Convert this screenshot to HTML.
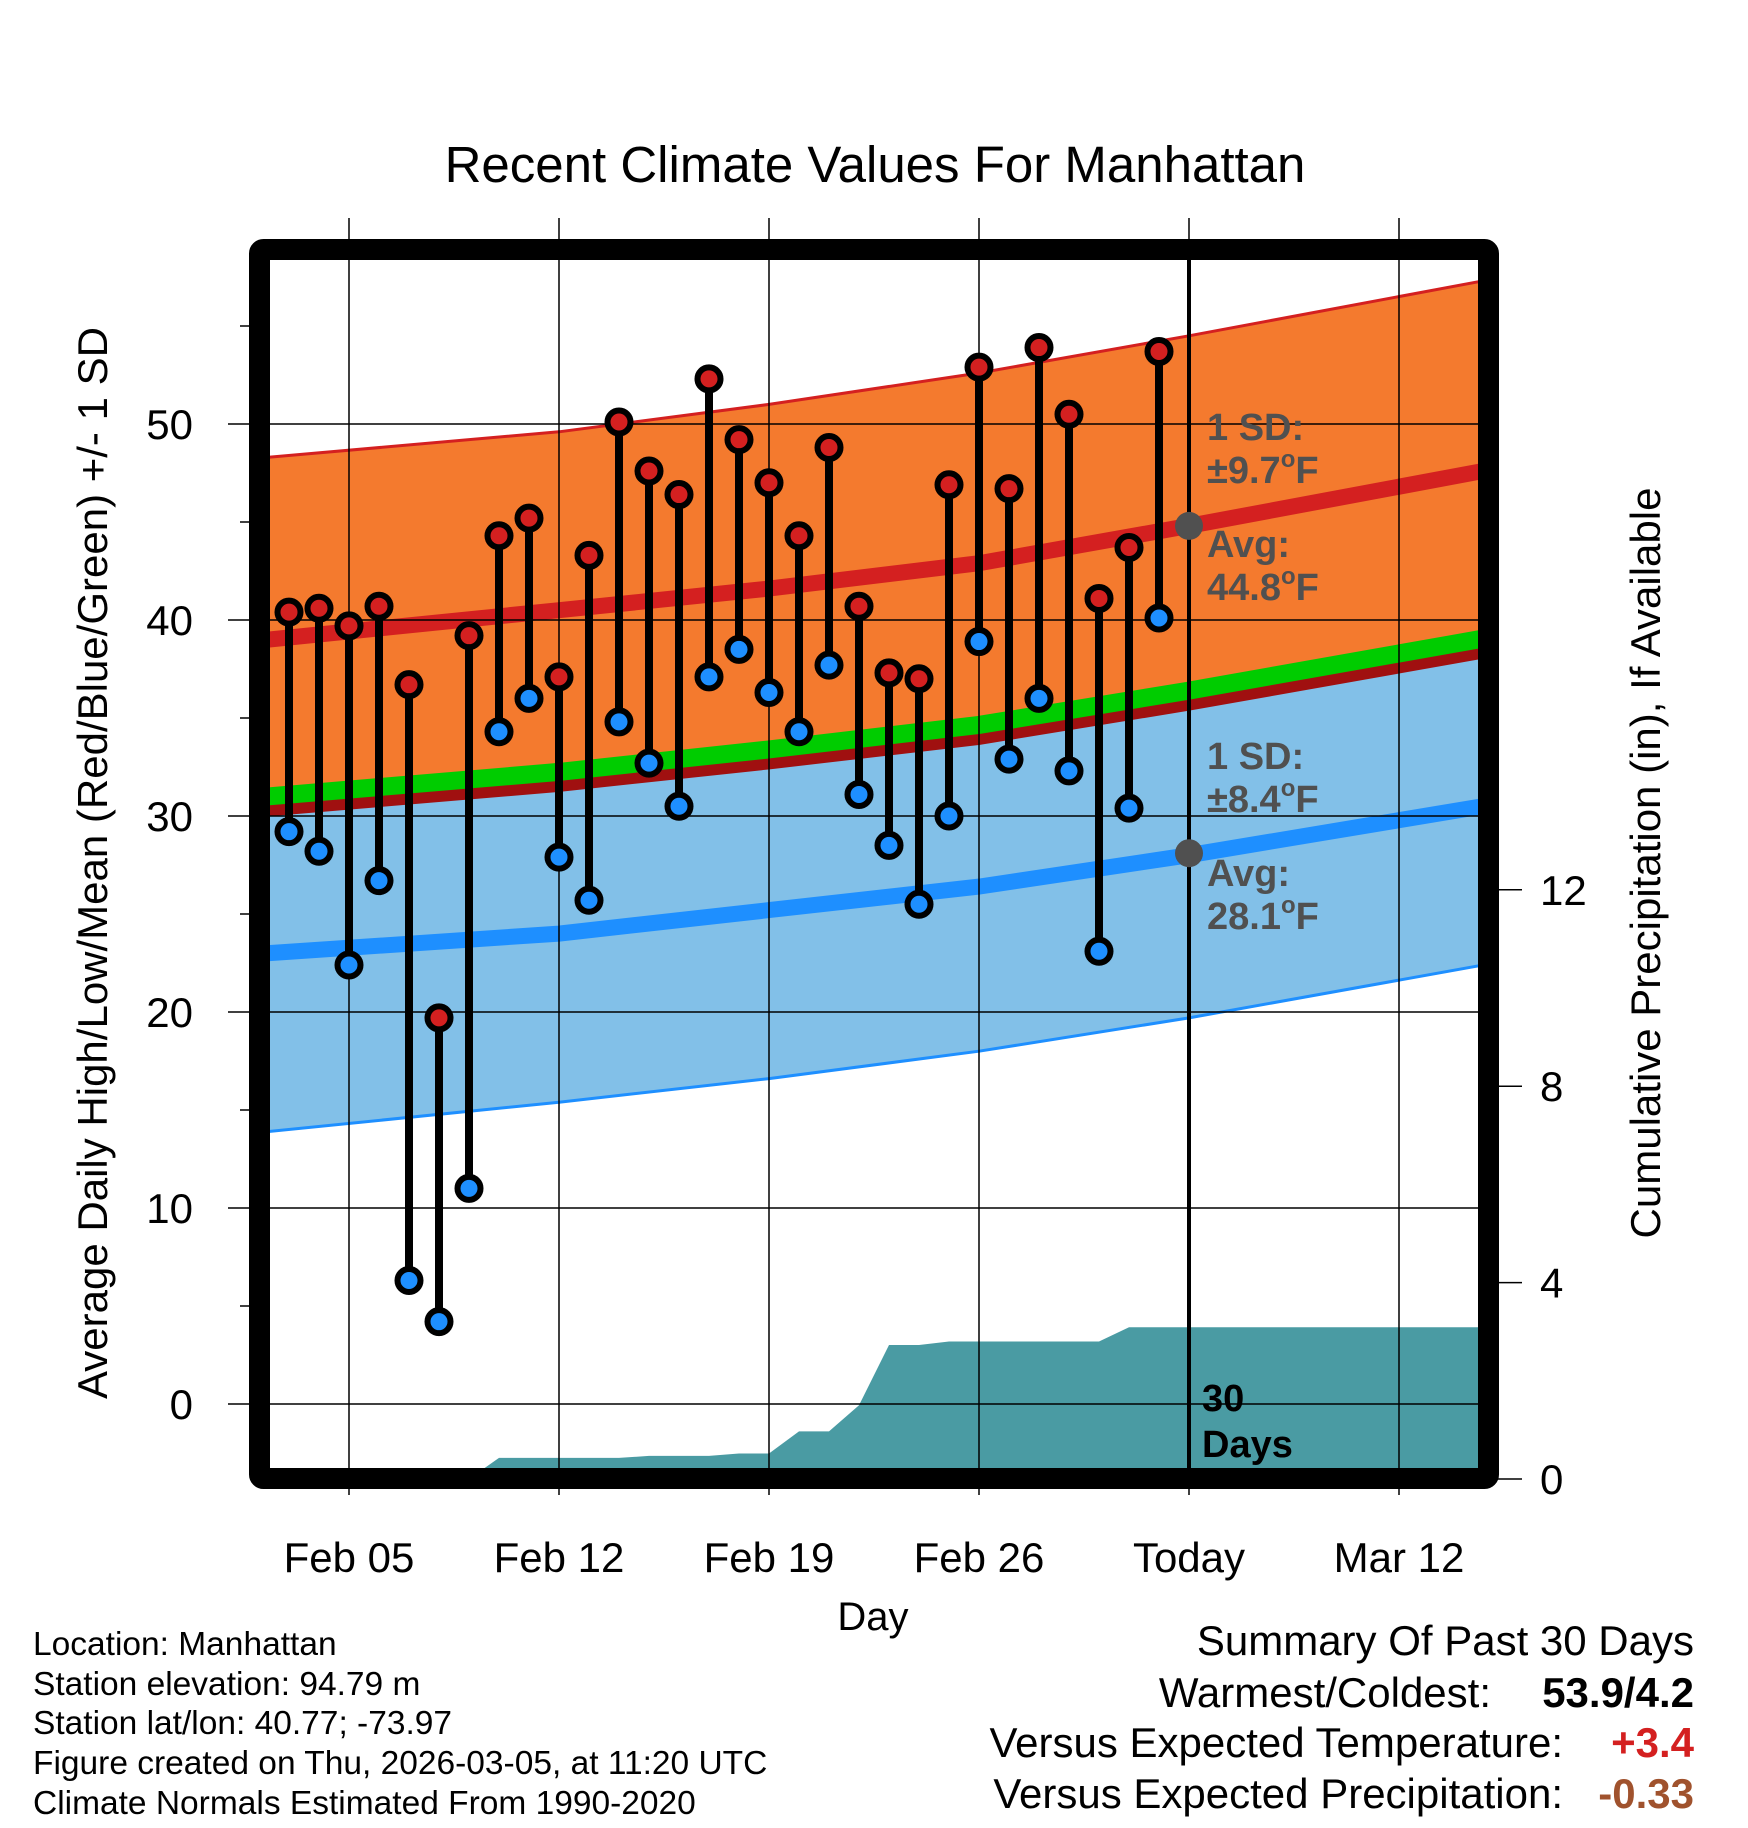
<!DOCTYPE html>
<html><head><meta charset="utf-8"><style>
html,body{margin:0;padding:0;background:#fff}
svg{display:block}
text{font-family:"Liberation Sans",Arial,sans-serif}
</style></head><body>
<svg id="chart" width="1748" height="1828" viewBox="0 0 1748 1828" xmlns="http://www.w3.org/2000/svg">
<defs><clipPath id="plotclip"><rect x="270" y="260" width="1209" height="1209"/></clipPath></defs>
<text x="875" y="182" font-size="51" text-anchor="middle">Recent Climate Values For Manhattan</text>
<g id="plot" clip-path="url(#plotclip)"></g>
<g id="axes"></g>
<text x="1207" y="440" font-size="38" font-weight="bold" fill="#505050">1 SD:</text>
<text x="1207" y="483" font-size="38" font-weight="bold" fill="#505050">±9.7<tspan font-size="24" dy="-16">o</tspan><tspan dy="16">F</tspan></text>
<text x="1207" y="557" font-size="38" font-weight="bold" fill="#505050">Avg:</text>
<text x="1207" y="600" font-size="38" font-weight="bold" fill="#505050">44.8<tspan font-size="24" dy="-16">o</tspan><tspan dy="16">F</tspan></text>
<text x="1207" y="769" font-size="38" font-weight="bold" fill="#505050">1 SD:</text>
<text x="1207" y="812" font-size="38" font-weight="bold" fill="#505050">±8.4<tspan font-size="24" dy="-16">o</tspan><tspan dy="16">F</tspan></text>
<text x="1207" y="886" font-size="38" font-weight="bold" fill="#505050">Avg:</text>
<text x="1207" y="929" font-size="38" font-weight="bold" fill="#505050">28.1<tspan font-size="24" dy="-16">o</tspan><tspan dy="16">F</tspan></text>
<text x="1202" y="1411" font-size="38" font-weight="bold">30</text>
<text x="1202" y="1457" font-size="38" font-weight="bold">Days</text>
<text x="873" y="1630" font-size="40" text-anchor="middle">Day</text>
<text transform="translate(107,863) rotate(-90)" font-size="42" text-anchor="middle">Average Daily High/Low/Mean (Red/Blue/Green) +/- 1 SD</text>
<text transform="translate(1660,863) rotate(-90)" font-size="42" text-anchor="middle">Cumulative Precipitation (in), If Available</text>
<g font-size="33.5">
<text x="33" y="1655">Location: Manhattan</text>
<text x="33" y="1695">Station elevation: 94.79 m</text>
<text x="33" y="1734">Station lat/lon: 40.77; -73.97</text>
<text x="33" y="1774">Figure created on Thu, 2026-03-05, at 11:20 UTC</text>
<text x="33" y="1814">Climate Normals Estimated From 1990-2020</text>
</g>
<g font-size="42">
<text x="1694" y="1655" text-anchor="end">Summary Of Past 30 Days</text>
<text x="1491" y="1707" text-anchor="end">Warmest/Coldest:</text>
<text x="1694" y="1707" text-anchor="end" font-weight="bold">53.9/4.2</text>
<text x="1563" y="1757" text-anchor="end">Versus Expected Temperature:</text>
<text x="1694" y="1757" text-anchor="end" font-weight="bold" fill="#d42020">+3.4</text>
<text x="1563" y="1808" text-anchor="end">Versus Expected Precipitation:</text>
<text x="1694" y="1808" text-anchor="end" font-weight="bold" fill="#a0522d">-0.33</text>
</g>
</svg>
<script>
// ---- data ----
const days = [-2,-1,0,1,2,3,4,5,6,7,8,9,10,11,12,13,14,15,16,17,18,19,20,21,22,23,24,25,26,27]; // days from Feb 05
const highs = [40.4,40.6,39.7,40.7,36.7,19.7,39.2,44.3,45.2,37.1,43.3,50.1,47.6,46.4,52.3,49.2,47.0,44.3,48.8,40.7,37.3,37.0,46.9,52.9,46.7,53.9,50.5,41.1,43.7,53.7];
const lows = [29.2,28.2,22.4,26.7,6.3,4.2,11.0,34.3,36.0,27.9,25.7,34.8,32.7,30.5,37.1,38.5,36.3,34.3,37.7,31.1,28.5,25.5,30.0,38.9,32.9,36.0,32.3,23.1,30.4,40.1];
const precipCum = [0,0,0,0,0,0,0,0.43,0.43,0.43,0.43,0.43,0.47,0.47,0.47,0.52,0.52,0.97,0.97,1.5,2.73,2.73,2.8,2.8,2.8,2.8,2.8,2.8,3.09,3.09];
const normDays = [-2.7,7,14,21,28,37.8];
const hiPlusSD = [48.3,49.6,51.0,52.6,54.5,57.3];
const hiAvg = [39.0,40.5,41.6,42.9,44.8,47.6];
const meanAvg = [31.0,32.25,33.4,34.65,36.4,39.05];
const loAvg = [23.0,24.0,25.2,26.4,28.0,30.5];
const loMinusSD = [13.9,15.4,16.6,18.0,19.7,22.4];
const yTicks = [0,10,20,30,40,50];
const y2Ticks = [0,4,8,12];
const xTickDays = [0,7,14,21,28,35];
const xTickLabels = ["Feb 05","Feb 12","Feb 19","Feb 26","Today","Mar 12"];
const todayDay = 28;
const todayHiAvg = 44.8, todayLoAvg = 28.1;

// ---- axis functions ----
const X = d => 349 + 30*d;
const Y = t => 1404 - 19.6*t;
const YP = p => 1479 - 49.1*p;
const NS = "http://www.w3.org/2000/svg";
function mk(tag, attrs, parent){const e=document.createElementNS(NS,tag);for(const k in attrs)e.setAttribute(k,attrs[k]);parent.appendChild(e);return e;}
const plot = document.getElementById('plot');
const axes = document.getElementById('axes');
function curvePts(vals, fy){return normDays.map((d,i)=>X(d).toFixed(1)+','+fy(vals[i]).toFixed(1));}
function band(top,bot,fill,name){
  const pts = curvePts(top,Y).concat(curvePts(bot,Y).reverse());
  const p = mk('polygon',{points:pts.join(' '),fill:fill},plot);
  
  
}
function line(vals,stroke,w,name,off){
  const p = mk('polyline',{points:normDays.map((d,i)=>X(d).toFixed(1)+','+(Y(vals[i])+(off||0)).toFixed(1)).join(' '),fill:'none',stroke:stroke,'stroke-width':w},plot);
  
  
}
band(hiPlusSD, meanAvg, '#f47a2e', 'high-sd-band');
band(meanAvg, loMinusSD, '#82c0e8', 'low-sd-band');
line(hiPlusSD,'#d42020',3,'high-plus-sd-line');
line(loMinusSD,'#1e8fff',3,'low-minus-sd-line');
line(hiAvg,'#d42020',16,'high-avg-line');
line(loAvg,'#1e8fff',16,'low-avg-line');
line(meanAvg,'#a01010',12,'mean-shadow-line',14);
line(meanAvg,'#00cc00',18,'mean-avg-line');

// precip area
(function(){
  let pts = [X(-3)+','+YP(0)];
  days.forEach((d,i)=>pts.push(X(d)+','+YP(precipCum[i]).toFixed(1)));
  const last = precipCum[precipCum.length-1];
  pts.push(X(40)+','+YP(last).toFixed(1));
  pts.push(X(40)+','+YP(0));
  const p = mk('polygon',{points:pts.join(' '),fill:'#4a9ba3'},plot);
  
  
})();

// gridlines
yTicks.forEach(t=>{
  const g = mk('line',{x1:228,x2:1479,y1:Y(t),y2:Y(t),stroke:'#000','stroke-width':1.5},axes);
  
  
  const lb = mk('text',{x:193,y:Y(t)+15,'font-size':42,'text-anchor':'end'},axes);
  lb.textContent = t;
  
  
});
for(let t=5;t<=55;t+=10){
  const m = mk('line',{x1:240,x2:250,y1:Y(t),y2:Y(t),stroke:'#000','stroke-width':1.5},axes);
  
  
}
xTickDays.forEach((d,i)=>{
  const g = mk('line',{x1:X(d),x2:X(d),y1:218,y2:1495,stroke:'#000','stroke-width':1.5},axes);
  
  
  const lb = mk('text',{x:X(d),y:1572,'font-size':42,'text-anchor':'middle'},axes);
  lb.textContent = xTickLabels[i];
  
  
});
y2Ticks.forEach(p=>{
  const g = mk('line',{x1:1488,x2:1522,y1:YP(p),y2:YP(p),stroke:'#000','stroke-width':1.5},axes);
  
  
  const lb = mk('text',{x:1540,y:YP(p)+15,'font-size':42},axes);
  lb.textContent = p;
  
  
});

// today line
const tl = mk('line',{x1:X(todayDay),x2:X(todayDay),y1:260,y2:1469,stroke:'#000','stroke-width':4},axes);


[todayHiAvg,todayLoAvg].forEach(v=>{
  const c = mk('circle',{cx:X(todayDay),cy:Y(v),r:14,fill:'#505050'},axes);
  
  
});

// stems and markers
days.forEach((d,i)=>{
  const s = mk('line',{x1:X(d),x2:X(d),y1:Y(highs[i]),y2:Y(lows[i]),stroke:'#000','stroke-width':8},axes);
  
  
});
days.forEach((d,i)=>{
  const h = mk('circle',{cx:X(d),cy:Y(highs[i]),r:11.5,fill:'#d42020',stroke:'#000','stroke-width':6},axes);
  
  
  const l = mk('circle',{cx:X(d),cy:Y(lows[i]),r:11.5,fill:'#1e8fff',stroke:'#000','stroke-width':6},axes);
  
  
});

// frame
const fr = mk('rect',{x:259.5,y:249.5,width:1229,height:1229,rx:4,fill:'none',stroke:'#000','stroke-width':21},axes);


</script>
</body></html>
